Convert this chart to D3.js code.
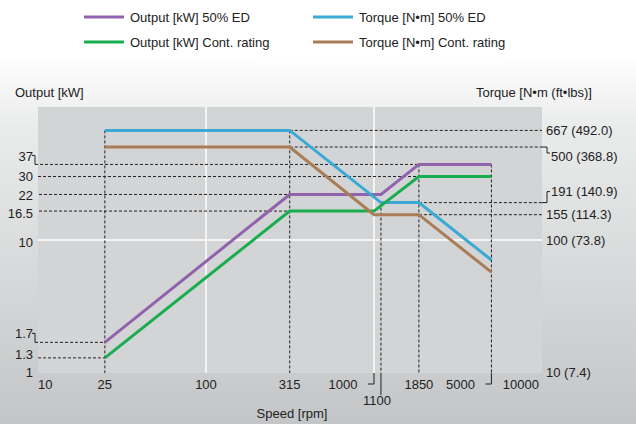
<!DOCTYPE html>
<html>
<head>
<meta charset="utf-8">
<script src="https://cdn.jsdelivr.net/npm/d3@7"></script>
<style>
  body { margin: 0; }
  svg text { font-family: "Liberation Sans", Arial, sans-serif; font-size: 13px; fill: #222; }
</style>
</head>
<body>
<div id="chart"></div>
<script>
// curves: [speed rpm, value]
var outputED   = [[25, 1.7], [315, 22], [1100, 22], [1850, 37], [5000, 37]];
var outputCont = [[25, 1.3], [315, 16.5], [1000, 16.5], [1850, 30], [5000, 30]];
var torqueED   = [[25, 667], [315, 667], [1100, 191], [1850, 191], [5000, 70.7]];
var torqueCont = [[25, 500], [315, 500], [1000, 155], [1850, 155], [5000, 57.3]];

var speedTicks  = [10, 25, 100, 315, 1000, 1100, 1850, 5000, 10000];
var outputTicks = [1, 1.3, 1.7, 10, 16.5, 22, 30, 37];
var torqueTicks = [10, 100, 155, 191, 500, 667];
var torqueLabels = ["10 (7.4)", "100 (73.8)", "155 (114.3)", "191 (140.9)", "500 (368.8)", "667 (492.0)"];

var seriesNames = ["Output [kW] 50% ED", "Torque [N•m] 50% ED", "Output [kW] Cont. rating", "Torque [N•m] Cont. rating"];
var colors = ["#9163ad", "#3aaad5", "#19ad4f", "#a97d55"];

var width = 636, height = 424;
var pL = 38, pR = 542, pT = 107, pB = 373;

var x = d3.scaleLog().domain([10, 10000]).range([pL, pR]);
var yOut = d3.scaleLog().domain([1, 100]).range([pB, pT]);
var yTrq = d3.scaleLog().domain([10, 1000]).range([pB, pT]);

var svg = d3.select("#chart").append("svg")
    .attr("width", width)
    .attr("height", height);

var grad = svg.append("defs").append("linearGradient")
    .attr("id", "bg").attr("x1", 0).attr("y1", 0).attr("x2", 0).attr("y2", 1);
grad.append("stop").attr("offset", "0.13").attr("stop-color", "#ffffff");
grad.append("stop").attr("offset", "0.3").attr("stop-color", "#eaebeb");
grad.append("stop").attr("offset", "1").attr("stop-color", "#c4c5c7");

svg.append("rect").attr("width", width).attr("height", height).attr("fill", "url(#bg)");
svg.append("rect")
    .attr("x", pL).attr("y", pT)
    .attr("width", pR - pL).attr("height", pB - pT)
    .attr("fill", "#d3d4d6");

// white grid
[100, 1000].forEach(function(v) {
  svg.append("line").attr("x1", x(v)).attr("x2", x(v)).attr("y1", pT).attr("y2", pB)
     .attr("stroke", "#fff").attr("stroke-width", 1.5);
});
svg.append("line").attr("x1", pL).attr("x2", pR).attr("y1", yOut(10)).attr("y2", yOut(10))
   .attr("stroke", "#fff").attr("stroke-width", 1.5);

// dashed guides
var dash = svg.append("g").attr("stroke", "#222").attr("stroke-width", 1)
    .attr("stroke-dasharray", "3,2").attr("fill", "none");

function hLine(y, x0, x1) {
  dash.append("line").attr("x1", x0).attr("x2", x1).attr("y1", y).attr("y2", y);
}
function vLine(xv, y0, y1) {
  dash.append("line").attr("x1", xv).attr("x2", xv).attr("y1", y0).attr("y2", y1);
}
hLine(yOut(37), 35, x(1850));
hLine(yOut(30), 38, x(1850));
hLine(yOut(22), 39, x(315));
hLine(yOut(16.5), 39, x(315));
hLine(yOut(1.7), 35, x(25));
hLine(yOut(1.3), 38, x(25));
hLine(yTrq(667), x(315), pR);
hLine(yTrq(500), x(315), pR);
hLine(yTrq(191), x(1850), pR);
hLine(yTrq(155), x(1850), pR);
vLine(x(25), yTrq(667), pB);
vLine(x(315), yTrq(667), pB);
vLine(x(1100), yTrq(191), pB);
vLine(x(1850), yOut(37), pB);
vLine(x(5000), yOut(37), pB);

// small brackets
var br = svg.append("g").attr("stroke", "#222").attr("stroke-width", 1).attr("fill", "none");
br.append("path").attr("d", "M35," + yOut(37) + "V" + (yOut(37) - 9) + "H32");
br.append("path").attr("d", "M35," + yOut(1.7) + "V" + (yOut(1.7) - 9) + "H32");
br.append("path").attr("d", "M" + pR + "," + yTrq(500) + "H547V" + (yTrq(500) + 6) + "H550");
br.append("path").attr("d", "M" + pR + "," + yTrq(191) + "H547V" + (yTrq(191) - 11) + "H550");
br.append("path").attr("d", "M" + (x(1000) - 6) + ",384H" + x(1000) + "V" + pB);
br.append("path").attr("d", "M" + (x(5000) - 6) + ",384H" + x(5000) + "V" + pB);
br.append("path").attr("d", "M" + x(1100) + "," + pB + "V395");

// curves
var line = d3.line().x(function(d) { return x(d[0]); });
var curves = [
  {data: outputED, y: yOut, c: colors[0]},
  {data: torqueED, y: yTrq, c: colors[1]},
  {data: outputCont, y: yOut, c: colors[2]},
  {data: torqueCont, y: yTrq, c: colors[3]}
];
curves.forEach(function(s) {
  svg.append("path")
    .attr("d", line.y(function(d) { return s.y(d[1]); })(s.data))
    .attr("fill", "none").attr("stroke", s.c).attr("stroke-width", 3);
});

// speed labels
var speedPos = {10: [0, "start"], 1000: [-31, "middle"], 1100: [-4, "middle"], 5000: [-31, "middle"], 10000: [-3, "end"]};
svg.selectAll(".xl").data(speedTicks).enter().append("text")
  .attr("x", function(d) { return x(d) + (speedPos[d] ? speedPos[d][0] : 0); })
  .attr("y", function(d) { return d === 1100 ? 405 : 389; })
  .attr("text-anchor", function(d) { return speedPos[d] ? speedPos[d][1] : "middle"; })
  .text(function(d) { return d; });

// output labels
var outShift = {1: -1, 1.3: -3, 1.7: -9, 37: -8, 22: 1, 16.5: 2, 10: 2};
svg.selectAll(".yl").data(outputTicks).enter().append("text")
  .attr("x", 33)
  .attr("y", function(d) { return yOut(d) + (outShift[d] || 0) + 4.5; })
  .attr("text-anchor", "end")
  .text(function(d) { return d; });

// torque labels
var trqShift = {500: 9, 191: -11};
svg.selectAll(".tl").data(torqueTicks).enter().append("text")
  .attr("x", function(d) { return trqShift[d] ? 551 : 546; })
  .attr("y", function(d) { return yTrq(d) + (trqShift[d] || 0) + 4.5 - (d === 10 ? 1 : 0); })
  .text(function(d, i) { return torqueLabels[i]; });

// axis titles
svg.append("text").attr("x", 15).attr("y", 97).text("Output [kW]");
svg.append("text").attr("x", 592).attr("y", 97).attr("text-anchor", "end").text("Torque [N•m (ft•lbs)]");
svg.append("text").attr("x", 292).attr("y", 418).attr("text-anchor", "middle").text("Speed [rpm]");

// legend
var legend = svg.selectAll(".lg").data(seriesNames).enter().append("g")
  .attr("transform", function(d, i) { return "translate(" + (i % 2 ? 313 : 84) + "," + (i < 2 ? 17 : 42) + ")"; });
legend.append("line").attr("x1", 0).attr("x2", 40).attr("y1", 0).attr("y2", 0)
  .attr("stroke", function(d, i) { return colors[i]; }).attr("stroke-width", 3);
legend.append("text").attr("x", 46).attr("y", 4.5).text(function(d) { return d; });
</script>
</body>
</html>
